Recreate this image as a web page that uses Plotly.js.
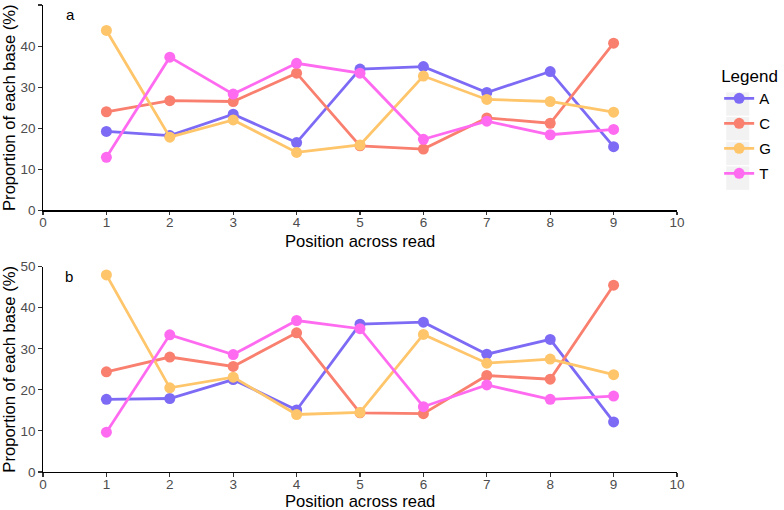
<!DOCTYPE html>
<html>
<head>
<meta charset="utf-8">
<script src="https://cdn.plot.ly/plotly-3.0.1.min.js"></script>
<style>html,body{margin:0;padding:0;background:#fff}#chart{width:784px;height:510px}</style>
</head>
<body>
<div id="chart"></div>
<script>
const positions = [1, 2, 3, 4, 5, 6, 7, 8, 9];
const bases = ["A", "C", "G", "T"];
// Panel a
const aA = [19.2, 18.2, 23.4, 16.5, 34.4, 35.0, 28.7, 33.8, 15.5];
const aC = [24.0, 26.7, 26.5, 33.4, 15.7, 14.9, 22.5, 21.2, 40.7];
const aG = [43.8, 17.8, 22.0, 14.1, 15.9, 32.7, 27.0, 26.5, 23.9];
const aT = [12.9, 37.3, 28.3, 35.8, 33.4, 17.3, 21.7, 18.4, 19.7];
// Panel b
const bA = [17.7, 17.9, 22.5, 15.1, 36.0, 36.5, 28.7, 32.3, 12.2];
const bC = [24.4, 28.0, 25.7, 33.9, 14.4, 14.2, 23.5, 22.6, 45.5];
const bG = [48.0, 20.5, 23.1, 14.0, 14.5, 33.5, 26.5, 27.5, 23.7];
const bT = [9.7, 33.4, 28.6, 36.9, 34.9, 15.9, 21.2, 17.7, 18.5];
const panelLabels = ["a", "b"];
const xTitle = "Position across read";
const yTitle = "Proportion of each base (%)";
const legendTitle = "Legend";

const colors = {A: "#7D6BF5", C: "#F97F6F", G: "#FFC56A", T: "#FF6BF0"};
const panelA = {A: aA, C: aC, G: aG, T: aT};
const panelB = {A: bA, C: bC, G: bG, T: bT};

const traces = [];
[[panelA, "x", "y", true], [panelB, "x2", "y2", false]].forEach(([d, xa, ya, leg]) => {
  bases.forEach(b => {
    traces.push({
      x: positions, y: d[b], type: "scatter", mode: "lines+markers",
      name: b, legendgroup: b, showlegend: leg,
      xaxis: xa, yaxis: ya, cliponaxis: false,
      line: {color: colors[b], width: 2.8},
      marker: {color: colors[b], size: 11}
    });
  });
});

// pixel geometry
const W = 784, H = 510;
const mL = 42.7, mR = W - 678.3, mT = 5, mB = H - 472;
const pw = W - mL - mR, ph = H - mT - mB;
const px = p => (p - mL) / pw;
const py = p => (H - mB - p) / ph;

const FONT = "Liberation Sans, Arial, sans-serif";
const axisX = {
  range: [0, 10], dtick: 1, tick0: 0, showgrid: false, zeroline: false,
  showline: true, linecolor: "#000", linewidth: 1.2,
  ticks: "outside", ticklen: 3.5, tickwidth: 1.1, tickcolor: "#333",
  tickfont: {family: FONT, size: 13.5, color: "#4D4D4D"},
  ticklabelstandoff: -4,
  fixedrange: true, automargin: false
};
const axisY = Object.assign({}, axisX, {range: [0, 50], dtick: 10, ticklabelstandoff: 0});

const shapes = [];
const keyTops = [92.3, 117.0, 141.7, 166.4];
keyTops.forEach(t => {
  shapes.push({type: "rect", xref: "paper", yref: "paper",
    x0: px(727.7), x1: px(750.7), y0: py(t + 23.4), y1: py(t),
    fillcolor: "#F2F2F2", line: {width: 0}, layer: "below"});
});

const titleFont = {family: FONT, size: 16.6, color: "#000"};

const layout = {
  width: W, height: H,
  margin: {l: mL, r: mR, t: mT, b: mB, pad: 0},
  paper_bgcolor: "#fff", plot_bgcolor: "#fff",
  font: {family: FONT},
  xaxis: Object.assign({}, axisX, {domain: [0, 1], anchor: "y"}),
  yaxis: Object.assign({}, axisY, {domain: [py(210.3), 1], anchor: "x",
    title: {text: yTitle, font: titleFont, standoff: 4}}),
  xaxis2: Object.assign({}, axisX, {domain: [0, 1], anchor: "y2"}),
  yaxis2: Object.assign({}, axisY, {domain: [0, py(266.7)], anchor: "x2",
    title: {text: yTitle, font: titleFont, standoff: 4}}),
  showlegend: true,
  legend: {
    x: px(719.5), y: py(60), xanchor: "left", yanchor: "top",
    title: {text: legendTitle, font: {family: FONT, size: 17, color: "#000"}},
    font: {family: FONT, size: 15, color: "#000"},
    itemwidth: 30, tracegroupgap: 2.5, bgcolor: "rgba(0,0,0,0)", itemclick: false
  },
  shapes: shapes,
  annotations: [
    {text: panelLabels[0], xref: "x", yref: "y", x: 0.43, y: 47.6, showarrow: false,
     font: {family: FONT, size: 15, color: "#000"}},
    {text: panelLabels[1], xref: "x2", yref: "y2", x: 0.41, y: 47.6, showarrow: false,
     font: {family: FONT, size: 15, color: "#000"}},
    {text: xTitle, xref: "paper", yref: "paper", x: 0.5, y: py(241.5), xanchor: "center", yanchor: "middle",
     showarrow: false, font: titleFont},
    {text: xTitle, xref: "paper", yref: "paper", x: 0.5, y: py(501), xanchor: "center", yanchor: "middle",
     showarrow: false, font: titleFont}
  ]
};

Plotly.newPlot("chart", traces, layout, {displayModeBar: false, staticPlot: true});
</script>
</body>
</html>
